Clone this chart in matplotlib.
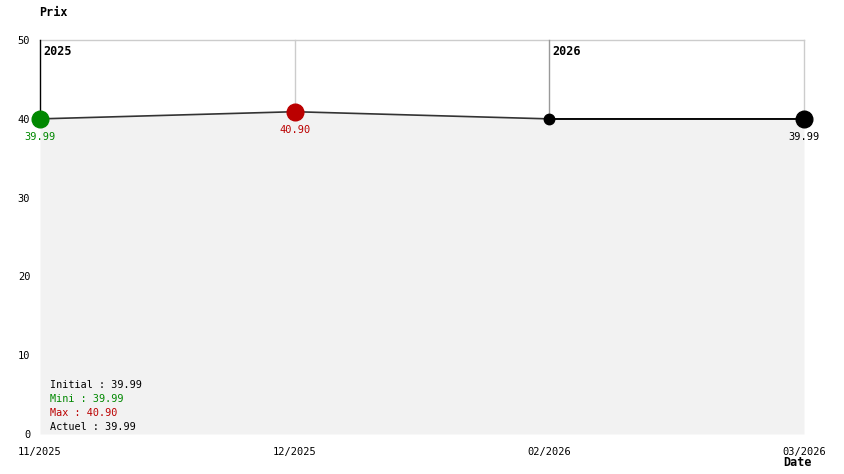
import matplotlib
matplotlib.use("Agg")
import matplotlib.pyplot as plt

dates = ["11/2025", "12/2025", "02/2026", "03/2026"]
prices = [39.99, 40.90, 39.99, 39.99]
point_colors = ["#008800", "#bb0000", "#000000", "#000000"]
point_sizes = [16, 16, 10, 16]
label_texts = ["39.99", "40.90", None, "39.99"]
years = ["2025", "2026"]
year_idx = [0, 2]
yticks = [0, 10, 20, 30, 40, 50]
legend_lines = [("Initial : 39.99", "#000000"), ("Mini : 39.99", "#008800"),
                ("Max : 40.90", "#bb0000"), ("Actuel : 39.99", "#000000")]

plt.rcParams['font.family'] = ['DejaVu Sans Mono']
W, H = 844, 474
fig = plt.figure(figsize=(W / 100, H / 100), dpi=100)
ax = fig.add_axes([40 / W, (H - 434) / H, 764 / W, 394 / H])
x = list(range(len(dates)))
ax.set_xlim(0, len(dates) - 1)
ax.set_ylim(0, 50)
for s in ax.spines.values():
    s.set_visible(False)
ax.set_xticks([])
ax.set_yticks(yticks)
ax.set_yticklabels([str(v) for v in yticks], fontsize=7.5)
ax.tick_params(axis='y', length=0, pad=7)

# top border
ax.plot([0, len(dates) - 1], [50, 50], color="#cccccc", lw=1, zorder=1, clip_on=False)
# vertical grid lines (above the data line only)
for i in x:
    if i in year_idx:
        c = "#000000" if i == 0 else "#999999"
    else:
        c = "#cccccc"
    ax.plot([i, i], [prices[i], 50], color=c, lw=1, zorder=1, clip_on=False)
# fill
ax.fill_between(x, prices, 0, color="#f2f2f2", zorder=2, lw=0, antialiased=False)
ax.plot(x, prices, color="#333333", lw=1.2, zorder=3)
ax.plot(x[2:], prices[2:], color="#000000", lw=1.2, zorder=3)
for i, (p, c, s) in enumerate(zip(prices, point_colors, point_sizes)):
    ax.plot(i, p, 'o', ms=s * 0.75, color=c, zorder=5, clip_on=False)
    if label_texts[i]:
        ax.annotate(label_texts[i], (i, p), xytext=(0, -9.5), textcoords='offset points',
                    ha='center', va='top', fontsize=7.5, color=c)

for yr, i in zip(years, year_idx):
    ax.annotate(yr, (i, 50), xytext=(2.5, -3.5), textcoords='offset points',
                ha='left', va='top', fontsize=8.5, fontweight='bold')

for i, d in enumerate(dates):
    ax.annotate(d, (i, 0), xytext=(0, -9), textcoords='offset points',
                ha='center', va='top', fontsize=7.5)

for k, (t, c) in enumerate(legend_lines):
    fig.text(50 / W, 1 - (385 + 14 * k) / H, t, color=c, fontsize=7.3, va='center', ha='left')

fig.text(39 / W, 1 - 12 / H, "Prix", fontsize=8.5, fontweight='bold', va='center', ha='left')
fig.text(812 / W, 1 - 463 / H, "Date", fontsize=8.5, fontweight='bold', va='center', ha='right')

fig.savefig("out.png", dpi=100)
